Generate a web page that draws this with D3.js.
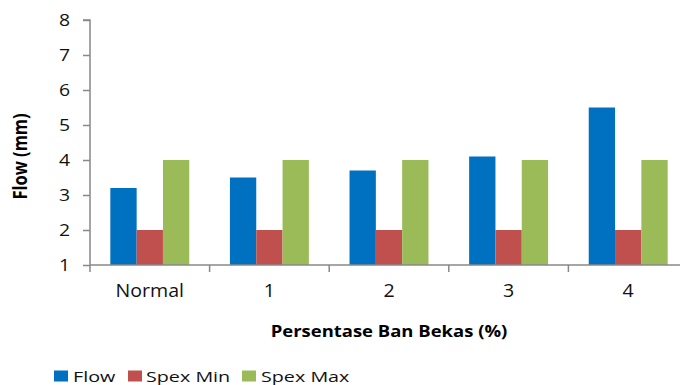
<!DOCTYPE html>
<html>
<head>
<meta charset="utf-8">
<script src="https://cdn.jsdelivr.net/npm/d3@7"></script>
<style>
  html, body { margin: 0; padding: 0; background: #fff; }
  svg { display: block; font-family: "Open Sans", "DejaVu Sans", sans-serif; }
</style>
</head>
<body>
<svg id="chart" width="680" height="385"></svg>
<script>
// Flow test results per waste-tyre percentage, with spec limits
const categories = ["Normal", "1", "2", "3", "4"];
const seriesNames = ["Flow", "Spex Min", "Spex Max"];
const flowValues = [3.2, 3.5, 3.7, 4.1, 5.5];
const spexMinValues = [2, 2, 2, 2, 2];
const spexMaxValues = [4, 4, 4, 4, 4];
const yTicks = [1, 2, 3, 4, 5, 6, 7, 8];

const colors = ["#0070C0", "#C0504D", "#9BBB59"];
const seriesValues = [flowValues, spexMinValues, spexMaxValues];

const svg = d3.select("#chart");
const axisColor = "#888888";
const textColor = "#111111";
const sx = 1.25; // horizontal text widening

const plotLeft = 90, plotRight = 688, plotTop = 20, plotBottom = 265;

const x = d3.scaleBand()
  .domain(categories)
  .range([plotLeft, plotRight])
  .paddingInner(0.34)
  .paddingOuter(0.17);

const xSub = d3.scaleBand()
  .domain(seriesNames)
  .range([0, x.bandwidth()]);

const y = d3.scaleLinear().domain([1, 8]).range([plotBottom, plotTop]);

// bars
const rows = categories.map((c, i) => ({
  cat: c,
  vals: seriesNames.map((s, j) => ({ s, j, v: seriesValues[j][i] }))
}));

const groups = svg.append("g").selectAll("g")
  .data(rows)
  .join("g")
  .attr("transform", d => `translate(${x(d.cat)},0)`);

groups.selectAll("rect")
  .data(d => d.vals)
  .join("rect")
  .attr("x", d => xSub(d.s))
  .attr("y", d => y(d.v))
  .attr("width", xSub.bandwidth())
  .attr("height", d => y(1) - y(d.v))
  .attr("fill", d => colors[d.j]);

// y axis
const yAxis = svg.append("g").attr("transform", `translate(${plotLeft},0)`)
  .call(d3.axisLeft(y).tickValues(yTicks).tickSize(7).tickPadding(0).tickFormat(d3.format("d")));
yAxis.select(".domain").attr("stroke", axisColor).attr("stroke-width", 1.5)
  .attr("d", `M-7,${plotTop}H0V${plotBottom}`);
yAxis.selectAll(".tick line").attr("stroke", axisColor).attr("stroke-width", 1.5);
yAxis.selectAll(".tick text").remove();
yAxis.selectAll(".tick").append("text")
  .attr("transform", `translate(-20,5.5) scale(${sx},1)`)
  .attr("text-anchor", "end")
  .attr("fill", textColor)
  .style("font-size", "15.5px")
  .style("font-family", "'Open Sans', sans-serif")
  .text(d => d);

// x axis: baseline with tick marks at category boundaries
const step = x.step();
const boundaries = d3.range(categories.length + 1).map(i => plotLeft + i * step);
svg.append("line")
  .attr("x1", plotLeft).attr("x2", 680)
  .attr("y1", plotBottom).attr("y2", plotBottom)
  .attr("stroke", axisColor).attr("stroke-width", 1.5);
svg.append("g").selectAll("line")
  .data(boundaries)
  .join("line")
  .attr("x1", d => d).attr("x2", d => d)
  .attr("y1", plotBottom).attr("y2", plotBottom + 7)
  .attr("stroke", axisColor).attr("stroke-width", 1.5);

svg.append("g").selectAll("text")
  .data(categories)
  .join("text")
  .attr("transform", d => `translate(${x(d) + x.bandwidth() / 2},297) scale(1.12,1)`)
  .attr("text-anchor", "middle")
  .attr("fill", textColor)
  .style("font-size", "17.5px")
  .text(d => d);

// axis titles
svg.append("text")
  .attr("transform", `translate(389,337) scale(1.12,1)`)
  .attr("text-anchor", "middle")
  .attr("fill", "#000")
  .style("font-size", "16.5px")
  .style("font-weight", "bold")
  .text("Persentase Ban Bekas (%)");

svg.append("text")
  .attr("transform", `translate(27,156.5) rotate(-90) scale(1,1.15)`)
  .attr("text-anchor", "middle")
  .attr("fill", "#000")
  .style("font-size", "16.5px")
  .style("font-weight", "bold")
  .text("Flow (mm)");

// legend
const legendItems = [
  { name: "Flow", sq: 54, tx: 73 },
  { name: "Spex Min", sq: 128, tx: 146 },
  { name: "Spex Max", sq: 242, tx: 261 }
];
const legend = svg.append("g");
legend.selectAll("rect")
  .data(legendItems)
  .join("rect")
  .attr("x", d => d.sq).attr("y", 370.5)
  .attr("width", 14).attr("height", 11)
  .attr("fill", (d, i) => colors[i]);
legend.selectAll("text")
  .data(legendItems)
  .join("text")
  .attr("transform", d => `translate(${d.tx},381.5) scale(1.29,1)`)
  .attr("fill", textColor)
  .style("font-size", "15.3px")
  .text(d => d.name);
</script>
</body>
</html>
